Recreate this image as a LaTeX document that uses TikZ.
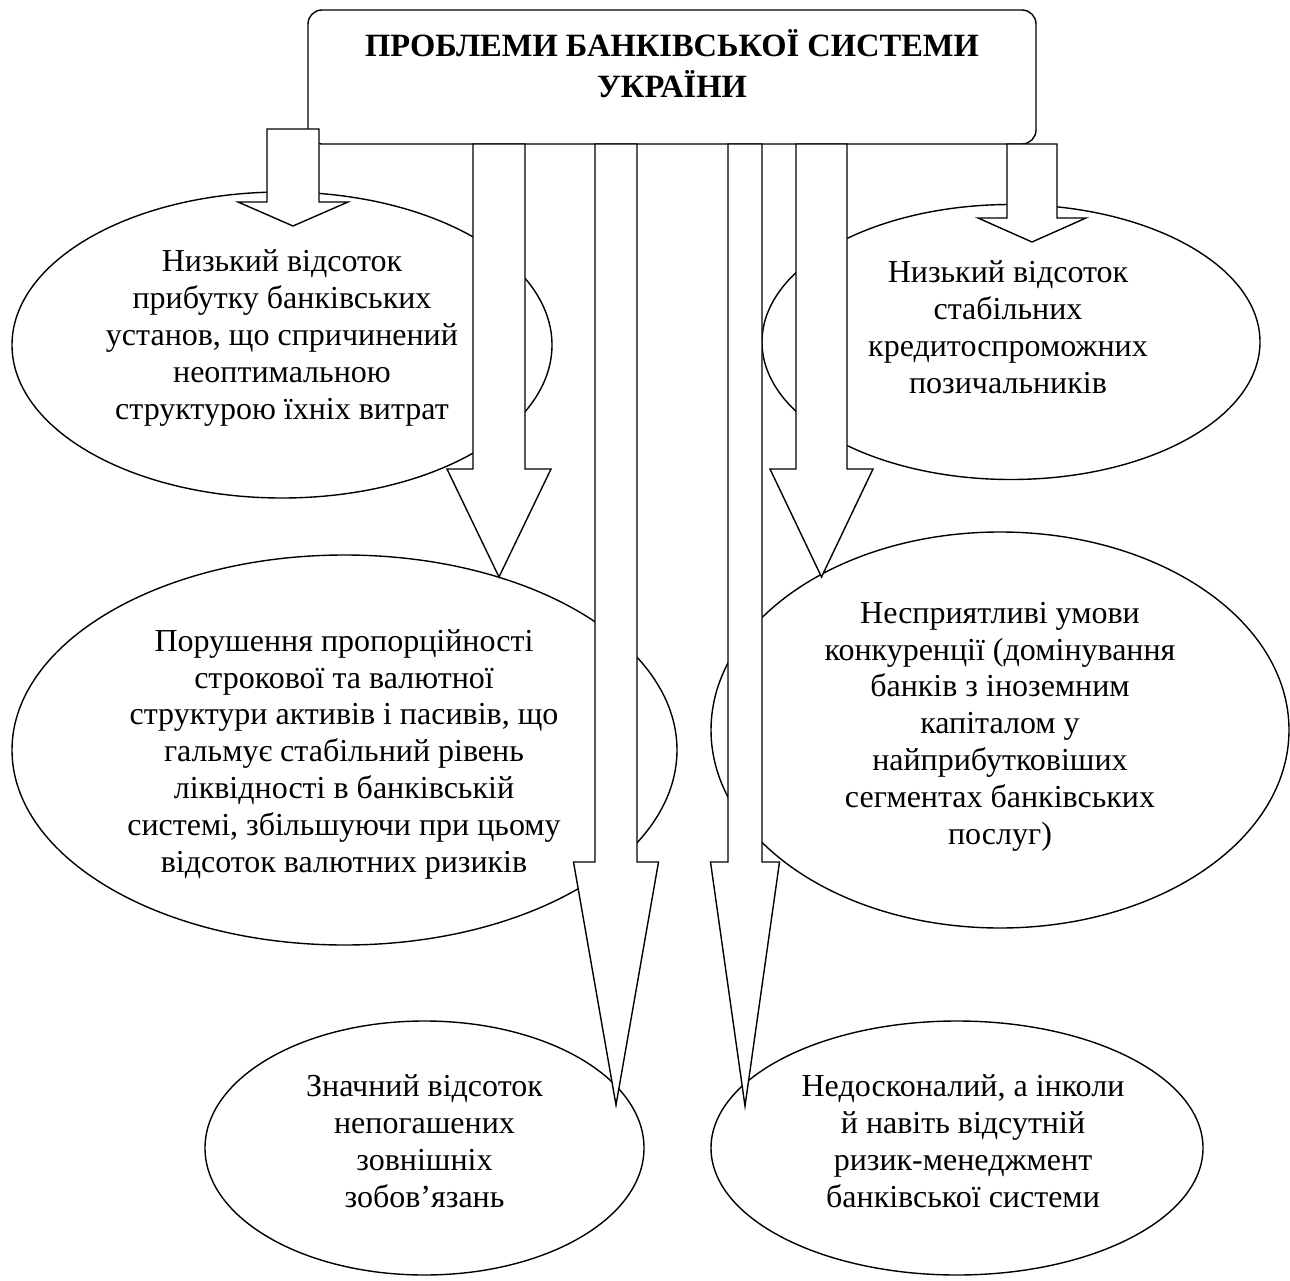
\documentclass[tikz,border=0pt]{standalone}
\usepackage{fontspec}
\setmainfont{Liberation Serif}
\usetikzlibrary{shapes.geometric}
% name, cx, top, base, tip, half shaft, half head
\newcommand\blockarr[7]{%
  \draw[barrow] (#2-#6,#3) coordinate (#1s) -- (#2+#6,#3) -- (#2+#6,#4) -- (#2+#7,#4) -- (#2,#5) coordinate (#1t) -- (#2-#7,#4) -- (#2-#6,#4) -- cycle;}
\begin{document}
\begin{tikzpicture}[x=1pt,y=-1pt, line width=1.4pt,
  oval/.style={draw, ellipse, inner sep=0pt},
  txt/.style={align=center, inner sep=0pt, font=\fontsize{32}{36.8}\selectfont},
  ttl/.style={align=center, inner sep=0pt, font=\fontsize{32.5}{41}\selectfont\bfseries},
  barrow/.style={draw, fill=white, line join=miter}]
\useasboundingbox (0,0) rectangle (1290,1281);
\fill[white] (0,0) rectangle (1290,1281);

% ellipses
\node[oval, minimum width=540pt, minimum height=306pt] (e1) at (282,345) {};
\node[oval, minimum width=498pt, minimum height=275pt] (e2) at (1011,342) {};
\node[oval, minimum width=665pt, minimum height=390pt] (e3) at (344.5,750) {};
\node[oval, minimum width=578pt, minimum height=396pt] (e4) at (1000,730) {};
\node[oval, minimum width=439pt, minimum height=254pt] (e5) at (424.5,1148) {};
\node[oval, minimum width=492pt, minimum height=254pt] (e6) at (957,1148) {};

% title box
\node[draw, rounded corners=14pt, minimum width=728pt, minimum height=134pt, inner sep=0pt] (title) at (672,77) {};

% block arrows
\blockarr{a1}{293}{129}{202}{226}{26}{55}
\blockarr{a2}{499}{144}{469}{577}{26}{52}
\blockarr{a3}{616}{144}{862}{1105}{21}{42.5}
\blockarr{a4}{745}{144}{862}{1106}{17}{34.5}
\blockarr{a5}{821.5}{144}{469}{577}{25.5}{51.5}
\blockarr{a6}{1032}{144}{218}{242}{25}{54}

% texts (base anchor = baseline of the last line)
\node[ttl, anchor=base] (ttext) at (672,98) {ПРОБЛЕМИ БАНКІВСЬКОЇ СИСТЕМИ\\УКРАЇНИ};
\node[txt, anchor=base] (t1) at (282,419) {Низький відсоток\\прибутку банківських\\установ, що спричинений\\неоптимальною\\структурою їхніх витрат};
\node[txt, anchor=base] (t2) at (1008,393) {Низький відсоток\\стабільних\\кредитоспроможних\\позичальників};
\node[txt, anchor=base] (t3) at (344,872) {Порушення пропорційності\\строкової та валютної\\структури активів і пасивів, що\\гальмує стабільний рівень\\ліквідності в банківській\\системі, збільшуючи при цьому\\відсоток валютних ризиків};
\node[txt, anchor=base] (t4) at (1000,844) {Несприятливі умови\\конкуренції (домінування\\банків з іноземним\\капіталом у\\найприбутковіших\\сегментах банківських\\послуг)};
\node[txt, anchor=base] (t5) at (424.5,1207) {Значний відсоток\\непогашених\\зовнішніх\\зобов’язань};
\node[txt, anchor=base] (t6) at (963,1207) {Недосконалий, а інколи\\й навіть відсутній\\ризик-менеджмент\\банківської системи};
\end{tikzpicture}
\end{document}
